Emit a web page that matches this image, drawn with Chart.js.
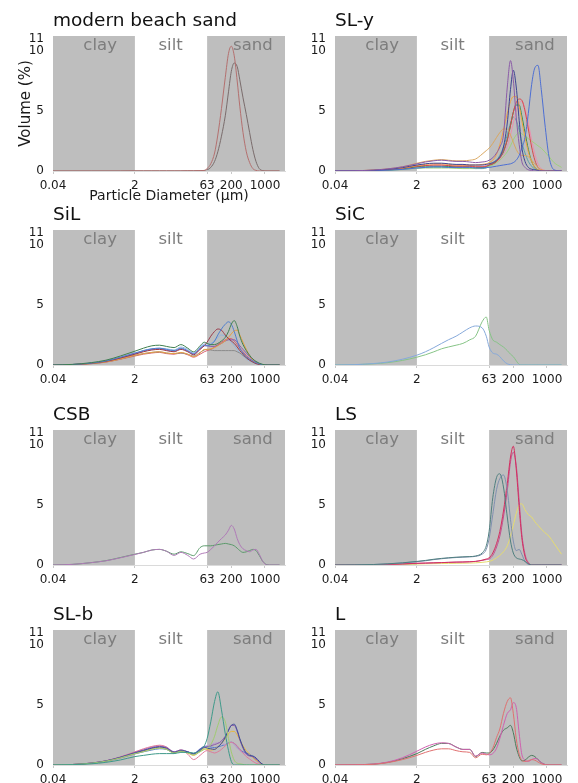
<!DOCTYPE html>
<html><head><meta charset="utf-8">
<script src="https://cdn.jsdelivr.net/npm/chart.js@4.4.1/dist/chart.umd.min.js"></script>
<style>
html,body{margin:0;padding:0;background:#fff;width:578px;height:783px;overflow:hidden;position:relative}
canvas{position:absolute}
</style></head><body>
<script>
// particle diameters (µm) shared by all size distributions
const diameters = [0.04,0.1,0.25,0.5,1,2, 3,4.5,6.5,9,13,18,25,33,45,55, 63,75,90,105,125,150,175,200,230,265,300,350,410,480,560,650,760,900,1100,1400,2000];
const xTicks = [0.04, 2, 63, 200, 1000];
const yTicks = [0, 5, 10, 11];

// modern beach sand
const beachA = [0,0,0,0,0,0.01, 0.01,0.01,0.01,0.01,0.01,0.01,0.02,0.02,0.03,0.05, 0.2,0.6,1.5,3.0,5.2,7.8,9.8,10.4,9.6,7.5,5.4,3.2,1.6,0.7,0.2,0.05,0,0,0,0,0];
const beachB = [0,0,0,0,0,0.01, 0.01,0.01,0.01,0.01,0.01,0.01,0.02,0.02,0.03,0.04, 0.1,0.3,0.8,1.6,2.9,4.6,6.6,8.3,9.0,8.7,7.6,6.1,4.7,3.2,1.8,0.8,0.2,0.03,0,0,0];

// SL-y
const sly1 = [0,0.02,0.08,0.18,0.35,0.6, 0.75,0.85,0.9,0.85,0.8,0.8,0.75,0.7,0.75,0.8, 0.9,1.1,1.5,2.0,3.0,7.0,9.2,7.6,4.5,2.2,0.8,0.3,0.1,0.05,0,0,0,0,0,0,0];
const sly2 = [0,0.02,0.06,0.14,0.28,0.5, 0.6,0.65,0.65,0.6,0.55,0.55,0.5,0.5,0.5,0.55, 0.6,0.7,0.9,1.2,2.0,4.0,6.8,8.4,7.0,4.2,2.0,0.8,0.3,0.15,0.1,0.05,0,0,0,0,0];
const sly3 = [0,0.01,0.03,0.07,0.13,0.25, 0.3,0.35,0.35,0.3,0.3,0.3,0.3,0.25,0.25,0.3, 0.3,0.35,0.4,0.45,0.5,0.55,0.6,0.7,0.9,1.3,1.9,2.8,4.8,7.2,8.6,8.8,6.8,4.0,1.2,0.1,0];
const sly4 = [0,0.02,0.08,0.18,0.35,0.65, 0.8,0.9,0.95,0.9,0.85,0.85,0.9,1.0,1.4,1.7, 1.9,2.3,2.8,3.2,3.5,3.5,3.0,2.4,1.8,1.4,1.3,1.3,1.2,0.9,0.6,0.3,0.1,0.05,0,0,0];
const sly5 = [0,0.02,0.06,0.13,0.25,0.45, 0.55,0.6,0.6,0.55,0.5,0.5,0.5,0.5,0.55,0.6, 0.7,0.9,1.4,2.2,3.4,4.8,5.8,6.2,6.2,5.4,4.2,2.8,1.6,0.8,0.3,0.1,0,0,0,0,0];
const sly6 = [0,0.01,0.05,0.11,0.22,0.4, 0.45,0.5,0.5,0.45,0.4,0.4,0.4,0.35,0.35,0.4, 0.5,0.6,0.8,1.1,1.7,2.6,3.8,4.9,5.7,6.0,5.9,5.0,3.5,2.0,0.9,0.3,0.1,0,0,0,0];
const sly7 = [0,0.01,0.04,0.09,0.18,0.35, 0.4,0.4,0.4,0.38,0.35,0.35,0.35,0.3,0.3,0.35, 0.5,0.6,0.8,1.1,1.6,2.6,3.8,4.9,5.5,5.5,4.6,3.2,1.8,0.8,0.3,0.1,0,0,0,0,0];
const sly8 = [0,0.01,0.03,0.06,0.12,0.22, 0.25,0.25,0.25,0.25,0.22,0.2,0.2,0.2,0.25,0.3, 0.4,0.5,0.7,0.9,1.2,1.6,2.1,2.6,3.0,3.2,3.1,2.9,2.7,2.5,2.3,2.1,1.9,1.6,1.2,0.7,0.3];
const sly9 = [0,0.01,0.04,0.1,0.2,0.38, 0.45,0.5,0.5,0.45,0.45,0.45,0.45,0.4,0.4,0.45, 0.5,0.6,0.75,1.0,1.4,2.1,3.0,4.0,5.0,5.7,5.8,5.2,4.0,2.6,1.4,0.6,0.2,0.05,0,0,0];
const sly10 = [0,0.01,0.03,0.07,0.14,0.25, 0.3,0.3,0.3,0.3,0.28,0.25,0.25,0.2,0.2,0.25, 0.4,0.6,0.9,1.3,2.0,3.0,4.0,4.5,4.2,3.4,2.4,1.5,0.8,0.4,0.15,0.05,0,0,0,0,0];

// SiL
const sil1 = [0,0.05,0.2,0.4,0.75,1.15, 1.4,1.6,1.65,1.55,1.45,1.7,1.4,1.1,1.6,1.9, 1.8,1.7,1.7,1.8,2.0,2.3,2.8,3.4,3.7,3.2,2.4,1.7,1.2,0.8,0.5,0.3,0.15,0.05,0,0,0];
const sil2 = [0,0.04,0.16,0.34,0.65,1.0, 1.2,1.35,1.4,1.3,1.2,1.4,1.2,0.95,1.4,1.65, 1.6,1.7,2.0,2.5,3.0,3.4,3.6,3.4,2.8,2.0,1.4,1.0,0.7,0.5,0.35,0.2,0.1,0.02,0,0,0];
const sil3 = [0,0.04,0.14,0.3,0.58,0.9, 1.1,1.25,1.3,1.2,1.1,1.3,1.1,0.85,1.3,1.6, 1.9,2.4,2.8,3.0,2.9,2.5,2.2,2.0,1.8,1.5,1.2,0.9,0.6,0.4,0.25,0.12,0.05,0,0,0,0];
const sil4 = [0,0.03,0.12,0.26,0.5,0.8, 0.95,1.05,1.1,1.0,0.95,1.05,0.9,0.7,1.0,1.3, 1.3,1.35,1.45,1.6,1.8,2.0,2.3,2.6,2.85,2.9,2.5,1.9,1.3,0.8,0.45,0.2,0.08,0,0,0,0];
const sil5 = [0,0.04,0.15,0.32,0.6,0.95, 1.15,1.3,1.35,1.25,1.15,1.35,1.15,0.9,1.35,1.6, 1.6,1.55,1.55,1.65,1.8,2.0,2.1,2.1,2.1,1.9,1.6,1.3,1.0,0.7,0.45,0.25,0.1,0.02,0,0,0];
const sil6 = [0,0.03,0.12,0.26,0.5,0.8, 0.95,1.05,1.1,1.0,0.95,1.0,0.9,0.75,1.05,1.25, 1.3,1.25,1.2,1.2,1.2,1.2,1.2,1.2,1.2,1.1,1.0,0.8,0.6,0.4,0.25,0.12,0.05,0,0,0,0];
const sil7 = [0,0.04,0.15,0.32,0.62,0.95, 1.2,1.35,1.4,1.35,1.25,1.5,1.3,1.0,1.5,1.75, 1.75,1.8,2.0,2.3,2.5,2.4,2.2,1.9,1.6,1.3,1.0,0.75,0.5,0.35,0.2,0.1,0.03,0,0,0,0];
const sil8 = [0,0.03,0.11,0.24,0.48,0.75, 0.9,1.0,1.05,0.95,0.9,1.0,0.85,0.65,0.9,1.1, 1.2,1.3,1.5,1.7,1.9,2.1,2.2,2.2,2.0,1.7,1.4,1.1,0.8,0.55,0.35,0.2,0.08,0,0,0,0];

// SiC
const sic1 = [0,0.03,0.12,0.25,0.48,0.82, 1.1,1.45,1.8,2.1,2.4,2.75,3.1,3.25,3.1,2.4, 1.5,1.0,0.9,0.7,0.35,0.1,0.02,0,0,0,0,0,0,0,0,0,0,0,0,0,0];
const sic2 = [0,0.02,0.1,0.2,0.38,0.65, 0.85,1.1,1.35,1.5,1.65,1.8,2.1,2.4,3.6,4.0, 2.9,2.1,1.9,1.7,1.5,1.2,0.9,0.7,0.35,0.05,0,0,0,0,0,0,0,0,0,0,0];

// CSB
const csb1 = [0,0.05,0.2,0.35,0.6,0.88, 1.05,1.25,1.3,1.15,0.8,1.05,0.8,0.5,0.9,1.0, 1.05,1.3,1.6,1.9,2.2,2.5,2.9,3.3,3.0,2.2,1.7,1.35,1.2,1.1,1.25,1.3,0.9,0.3,0,0,0];
const csb2 = [0,0.05,0.2,0.36,0.62,0.9, 1.05,1.25,1.3,1.15,0.9,1.1,0.95,0.78,1.45,1.6, 1.6,1.6,1.65,1.7,1.75,1.8,1.75,1.7,1.6,1.4,1.2,1.05,1.1,1.2,1.3,1.2,0.8,0.3,0.02,0,0];

// LS
const ls1 = [0,0.01,0.04,0.1,0.18,0.3, 0.38,0.48,0.55,0.6,0.65,0.68,0.7,0.75,1.0,1.6, 2.8,5.6,7.3,7.6,6.5,4.0,2.0,1.0,0.6,0.5,0.45,0.3,0.1,0,0,0,0,0,0,0,0];
const ls2 = [0,0.01,0.04,0.09,0.17,0.28, 0.35,0.45,0.52,0.58,0.62,0.65,0.68,0.72,0.9,1.3, 2.2,4.2,6.3,7.2,7.5,6.2,3.8,2.0,1.2,1.3,0.9,0.3,0.05,0,0,0,0,0,0,0,0];
const ls3 = [0,0.01,0.02,0.05,0.09,0.14, 0.16,0.18,0.2,0.22,0.24,0.25,0.27,0.3,0.4,0.5, 0.6,1.0,1.8,2.8,4.5,6.8,9.0,9.9,8.0,4.8,2.3,0.7,0.15,0,0,0,0,0,0,0,0];
const ls4 = [0,0.01,0.02,0.05,0.09,0.14, 0.16,0.18,0.2,0.22,0.24,0.25,0.27,0.3,0.38,0.45, 0.5,0.8,1.5,2.4,4.0,6.2,8.6,9.4,8.3,5.3,2.6,0.9,0.2,0,0,0,0,0,0,0,0];
const ls5 = [0,0.01,0.02,0.03,0.05,0.08, 0.1,0.11,0.12,0.13,0.14,0.15,0.16,0.18,0.22,0.26, 0.3,0.4,0.6,0.8,1.1,1.6,2.4,3.3,4.3,5.0,5.1,4.6,4.2,4.0,3.6,3.3,3.0,2.7,2.4,1.8,0.9];

// SL-b
const slb1 = [0,0.03,0.1,0.22,0.42,0.7, 0.8,0.9,0.95,0.95,0.95,1.05,1.05,1.0,1.2,1.6, 2.2,3.6,5.3,6.1,4.6,2.6,1.2,0.3,0,0,0,0,0,0,0,0,0,0,0,0,0];
const slb2 = [0,0.04,0.15,0.32,0.6,0.95, 1.1,1.3,1.4,1.3,1.0,1.15,1.0,0.85,1.1,1.3, 1.4,1.7,2.4,3.3,4.0,3.6,2.2,1.1,0.4,0.15,0.1,0.05,0,0,0,0,0,0,0,0,0];
const slb3 = [0,0.04,0.16,0.34,0.64,1.0, 1.2,1.4,1.5,1.4,1.05,1.2,1.1,0.95,1.3,1.5, 1.4,1.35,1.3,1.5,1.8,2.3,2.9,3.3,3.4,2.9,2.2,1.5,1.0,0.8,0.75,0.6,0.3,0.05,0,0,0];
const slb4 = [0,0.04,0.16,0.34,0.65,1.05, 1.25,1.45,1.55,1.45,1.1,1.25,1.1,0.9,1.25,1.45, 1.5,1.6,1.7,1.8,2.0,2.4,2.9,3.3,3.3,2.8,2.1,1.4,0.9,0.75,0.7,0.5,0.25,0.05,0,0,0];
const slb5 = [0,0.04,0.15,0.32,0.6,0.95, 1.15,1.35,1.45,1.35,1.0,1.15,1.0,0.8,1.15,1.35, 1.3,1.25,1.3,1.5,1.8,2.2,2.6,2.8,2.8,2.5,2.1,1.6,1.2,0.9,0.6,0.4,0.2,0.05,0,0,0];
const slb6 = [0,0.04,0.16,0.35,0.68,1.1, 1.35,1.55,1.65,1.5,1.05,1.25,0.9,0.45,0.8,1.1, 1.2,1.1,1.0,1.1,1.3,1.6,1.8,1.9,1.8,1.6,1.3,1.0,0.7,0.5,0.3,0.15,0.05,0,0,0,0];
const slb7 = [0,0.04,0.16,0.35,0.66,1.05, 1.3,1.5,1.6,1.5,1.1,1.25,1.1,0.95,1.3,1.55, 1.6,1.7,1.8,1.85,1.8,1.7,1.8,1.9,1.7,1.4,1.2,1.0,0.9,0.8,0.6,0.35,0.15,0.03,0,0,0];
const slb8 = [0,0.04,0.14,0.3,0.58,0.92, 1.1,1.25,1.35,1.3,1.0,1.15,1.05,0.95,1.35,1.55, 1.55,1.5,1.45,1.5,1.6,1.7,1.85,1.9,1.8,1.55,1.3,1.1,1.0,0.9,0.7,0.4,0.15,0.03,0,0,0];

// L
const l1 = [0,0.01,0.06,0.2,0.45,0.8, 1.05,1.25,1.35,1.35,1.2,1.1,1.05,0.6,0.9,0.85, 0.95,1.4,2.3,3.0,4.3,5.3,5.6,4.3,2.2,0.9,0.4,0.3,0.35,0.45,0.4,0.25,0.1,0.02,0,0,0];
const l2 = [0,0.02,0.08,0.25,0.6,1.15, 1.5,1.75,1.85,1.8,1.5,1.3,1.3,0.75,1.0,0.9, 0.85,0.95,1.4,2.2,3.3,4.3,4.6,5.2,4.8,2.6,0.9,0.4,0.3,0.45,0.55,0.45,0.2,0.05,0,0,0];
const l3 = [0,0.02,0.07,0.22,0.52,0.95, 1.3,1.6,1.8,1.8,1.5,1.3,1.3,0.7,1.05,1.0, 1.0,1.25,1.8,2.4,2.9,3.1,3.3,2.7,1.5,0.7,0.35,0.4,0.65,0.8,0.7,0.45,0.2,0.05,0,0,0];

const panels = [
  {title:'modern beach sand', col:0, row:0, sand:true, axes:true, series:[beachA,beachB], colors:['#b4706f','#7a6c6c']},
  {title:'SL-y', col:1, row:0, sand:true, series:[sly1,sly2,sly3,sly4,sly5,sly6,sly7,sly8,sly9,sly10],
    colors:['#8b5ca8','#3d4592','#4d6fd4','#d9a760','#f2a341','#d9474b','#2f8d4e','#9fd17d','#ec8fb0','#5ba3a8']},
  {title:'SiL', col:0, row:1, sand:false, series:[sil1,sil2,sil3,sil4,sil5,sil6,sil7,sil8],
    colors:['#3f7f4f','#4f7fd0','#9a3a4a','#e8a040','#8a5aa8','#8a8a8a','#8fb5e0','#d86070']},
  {title:'SiC', col:1, row:1, sand:false, series:[sic1,sic2], colors:['#86a9da','#86c486']},
  {title:'CSB', col:0, row:2, sand:true, series:[csb1,csb2], colors:['#b07ab8','#5a9a6a']},
  {title:'LS', col:1, row:2, sand:true, series:[ls1,ls2,ls3,ls4,ls5], colors:['#4f7f7f','#8090b0','#d43060','#c05090','#e6dc70']},
  {title:'SL-b', col:0, row:3, sand:true, series:[slb1,slb2,slb3,slb4,slb5,slb6,slb7,slb8],
    colors:['#3f9a8a','#a0cc70','#3a4a9a','#8a5aa8','#e8b840','#e07a9a','#b89ad0','#5a7ad0']},
  {title:'L', col:1, row:3, sand:true, series:[l1,l2,l3], colors:['#e07070','#d060b0','#4a7a5a']}
];

const colLeft = [0, 282];
const rowTop = [0, 194, 394, 594];
const FONT = '"DejaVu Sans", Verdana, sans-serif';

const regionPlugin = {
  id: 'regions',
  beforeDatasetsDraw(chart, args, opts) {
    const {ctx, chartArea: a, scales: {x, y}} = chart;
    ctx.save();
    ctx.fillStyle = '#bebebe';
    const x2 = x.getPixelForValue(2), x63 = x.getPixelForValue(63);
    ctx.fillRect(a.left, a.top, x2 - a.left, a.bottom - a.top);
    ctx.fillRect(x63, a.top, a.right - x63, a.bottom - a.top);
    ctx.fillStyle = '#7d7d7d';
    ctx.font = '16.5px ' + FONT;
    ctx.textAlign = 'center';
    ctx.textBaseline = 'alphabetic';
    const yy = y.getPixelForValue(10.1);
    ctx.fillText('clay', x.getPixelForValue(0.38), yy);
    ctx.fillText('silt', x.getPixelForValue(11), yy);
    if (opts.sand) ctx.fillText('sand', x.getPixelForValue(560), yy);
    ctx.fillStyle = '#111';
    ctx.textAlign = 'left';
    ctx.font = '18.5px ' + FONT;
    ctx.fillText(opts.title, a.left, a.top - 10);
    ctx.restore();
  }
};

panels.forEach(p => {
  const xh = p.axes ? 34 : 29;
  const W = 297, H = 36 + 135 + xh;
  const cv = document.createElement('canvas');
  cv.width = W; cv.height = H;
  cv.style.left = colLeft[p.col] + 'px';
  cv.style.top = rowTop[p.row] + 'px';
  cv.style.width = W + 'px'; cv.style.height = H + 'px';
  document.body.appendChild(cv);
  new Chart(cv, {
    type: 'line',
    data: {
      labels: diameters,
      datasets: p.series.map((s, i) => ({
        data: s,
        borderColor: p.colors[i],
        borderWidth: 1,
        pointRadius: 0,
        cubicInterpolationMode: 'monotone',
        fill: false
      }))
    },
    options: {
      responsive: false,
      animation: false,
      devicePixelRatio: 1,
      layout: {padding: {top: 36, left: 0, right: 12, bottom: 0}},
      plugins: {legend: {display: false}, tooltip: {enabled: false},
        regions: {title: p.title, sand: p.sand}},
      scales: {
        x: {
          type: 'logarithmic', min: 0.04, max: 2600, bounds: 'data',
          afterBuildTicks: ax => { ax.ticks = xTicks.map(v => ({value: v})); },
          afterFit: ax => { ax.height = xh; },
          grid: {display: true, drawOnChartArea: false, drawTicks: true, tickLength: 3, color: '#c8c8c8'},
          border: {display: true, color: '#dadada'},
          ticks: {autoSkip: false, maxRotation: 0, padding: 5, color: '#1a1a1a',
            font: {family: FONT, size: 12}, callback: v => String(v)},
          title: {display: !!p.axes, text: 'Particle Diameter (µm)', color: '#1a1a1a',
            font: {family: FONT, size: 14}, padding: {top: 0, bottom: 0}}
        },
        y: {
          min: 0, max: 11.25,
          afterBuildTicks: ax => { ax.ticks = yTicks.map(v => ({value: v})); },
          afterFit: ax => { ax.width = 53; },
          grid: {display: false, drawTicks: false},
          border: {display: false},
          ticks: {autoSkip: false, padding: 9, color: '#1a1a1a', font: {family: FONT, size: 12}},
          title: {display: !!p.axes, text: 'Volume (%)', color: '#1a1a1a',
            font: {family: FONT, size: 15}, padding: {top: 17, bottom: 0}}
        }
      }
    },
    plugins: [regionPlugin]
  });
});
</script>
</body></html>
